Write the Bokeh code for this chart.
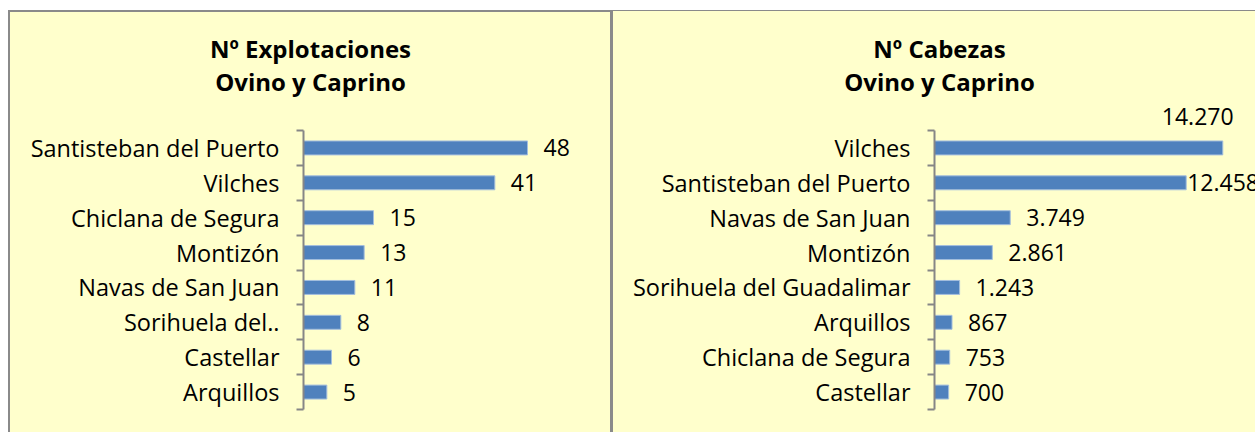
from bokeh.plotting import figure
from bokeh.models import ColumnDataSource, Range1d, FixedTicker, LabelSet, Label
from bokeh.layouts import row
from bokeh.core.properties import value
from bokeh.embed import file_html
from bokeh.resources import INLINE

# ---------------- data ----------------
expl_title = ["Nº Explotaciones", "Ovino y Caprino"]
expl_cats = ["Santisteban del Puerto", "Vilches", "Chiclana de Segura", "Montizón",
             "Navas de San Juan", "Sorihuela del..", "Castellar", "Arquillos"]
expl_vals = [48, 41, 15, 13, 11, 8, 6, 5]

cab_title = ["Nº Cabezas", "Ovino y Caprino"]
cab_cats = ["Vilches", "Santisteban del Puerto", "Navas de San Juan", "Montizón",
            "Sorihuela del Guadalimar", "Arquillos", "Chiclana de Segura", "Castellar"]
cab_vals = [14270, 12458, 3749, 2861, 1243, 867, 753, 700]

# ---------------- style ----------------
BG = "#FFFFCC"
BAR = "#4F81BD"
AXIS = "#868686"
BORDER = "#8A8A8A"
FONT = "Open Sans"
PX_PER_CAT = 34.875
TITLE_STEP = 33


def fmt(v):
    return f"{v:,}".replace(",", ".")


def panel(title, cats, vals, width, height, axis_x, axis_top, title_y, scale, title_x,
          x_offsets, y_offsets):
    n = len(cats)
    ys = [n - 1 - i for i in range(n)]
    y_top = n - 0.5 + axis_top / PX_PER_CAT
    y_bot = -0.5 - (height - axis_top - n * PX_PER_CAT) / PX_PER_CAT
    p = figure(width=width, height=height, output_backend="svg", toolbar_location=None,
               x_range=Range1d(-axis_x / scale, (width - axis_x) / scale),
               y_range=Range1d(y_bot, y_top),
               x_axis_location=None, min_border=0,
               styles={"background-color": BG})
    p.background_fill_color = BG
    p.border_fill_color = BG
    p.outline_line_color = None
    p.grid.visible = False

    src = ColumnDataSource(dict(y=ys, v=vals, lab=[fmt(v) for v in vals],
                                xo=x_offsets, yo=y_offsets))
    p.hbar(y="y", right="v", left=0, height=0.4, source=src,
           fill_color=BAR, line_color="#A4BEDD", line_width=1)

    ax = p.yaxis[0]
    ax.fixed_location = 0
    ax.bounds = (-0.5, n - 0.5)
    ax.ticker = FixedTicker(ticks=ys, minor_ticks=[i - 0.5 for i in range(n + 1)])
    ax.major_label_overrides = {y: c for y, c in zip(ys, cats)}
    ax.major_tick_out = 0
    ax.major_tick_in = 0
    ax.minor_tick_out = 7
    ax.minor_tick_in = 0
    ax.minor_tick_line_color = AXIS
    ax.minor_tick_line_width = 2
    ax.axis_line_color = AXIS
    ax.axis_line_width = 2
    ax.major_label_standoff = 17
    ax.major_label_text_font = FONT
    ax.major_label_text_font_size = "23.5px"
    ax.major_label_text_color = "#000000"

    labels = LabelSet(x="v", y="y", text="lab", source=src, x_offset="xo", y_offset="yo",
                      text_align="left", text_baseline="middle",
                      text_font=value(FONT), text_font_size="23px", text_color="#000000")
    p.add_layout(labels)

    for k, line in enumerate(title):
        p.add_layout(Label(x=title_x, y=height - title_y - TITLE_STEP * k,
                           x_units="screen", y_units="screen",
                           text=line, text_align="center", text_baseline="alphabetic",
                           text_font=FONT, text_font_style="bold", text_font_size="24px",
                           text_color="#000000"))
    return p


n1 = len(expl_cats)
p1 = panel(expl_title, expl_cats, expl_vals, 600, 420, 293, 118, 36, 4.6667, 300,
           [16] * n1, [0] * n1)

n2 = len(cab_cats)
xo2 = [16] * n2
yo2 = [0] * n2
xo2[0], yo2[0] = -61, 31
xo2[1] = 1
p2 = panel(cab_title, cab_cats, cab_vals, 642, 421, 321, 119, 37, 0.020203, 326, xo2, yo2)

p1.margin = (2, 0, 0, 2)
p2.margin = (1, 0, 0, 3)
layout = row(p1, p2, styles={"background-color": BORDER}, margin=(10, 0, 0, 8), spacing=0)

open("out.html", "w").write(file_html(layout, INLINE))
